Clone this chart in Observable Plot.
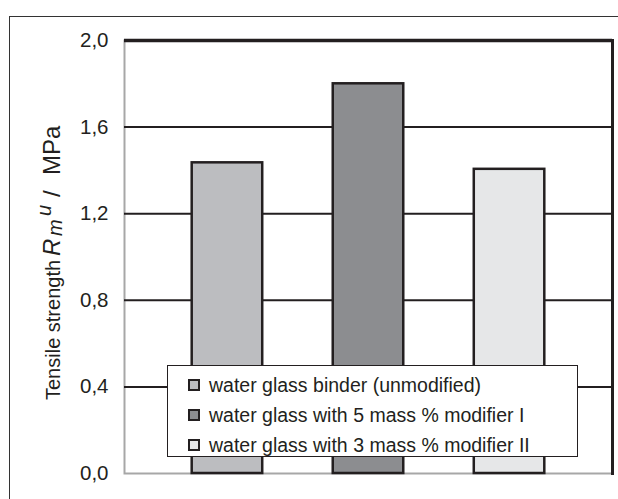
<!DOCTYPE html>
<html>
<head>
<meta charset="utf-8">
<script src="https://cdn.jsdelivr.net/npm/d3@7"></script>
<script src="https://cdn.jsdelivr.net/npm/@observablehq/plot@0.6"></script>
<style>
  html, body { margin: 0; padding: 0; background: #fff; overflow: hidden; }
  #wrap { position: relative; width: 618px; height: 499px; overflow: hidden; font-family: "Liberation Sans", Arial, sans-serif; }
  #outer { position: absolute; left: 9px; top: 16px; width: 800px; height: 700px; border: 1.5px solid #333; box-sizing: border-box; }
  #chart { position: absolute; left: 0; top: 0; }
  #legend { position: absolute; left: 167px; top: 365px; width: 411px; height: 92px; box-sizing: border-box;
            border: 1.5px solid #231f20; background: #fff; padding-top: 4px; }
  .item { display: flex; align-items: center; height: 30px; padding-left: 20px; font-size: 19.5px; color: #231f20; }
  .sw { width: 12px; height: 12px; box-sizing: border-box; border: 2.5px solid #231f20; margin-right: 9px; }
</style>
</head>
<body>
<div id="wrap">
  <div id="outer"></div>
  <div id="chart"></div>
  <div id="legend"></div>
</div>
<script>
const series = ["water glass binder (unmodified)", "water glass with 5 mass % modifier I", "water glass with 3 mass % modifier II"];
const values = [1.435, 1.80, 1.405];
const colors = ["#bcbdc0", "#8c8d90", "#e6e7e8"];
const yTicks = [0, 0.4, 0.8, 1.2, 1.6, 2.0];
const gridTicks = [0.4, 0.8, 1.2, 1.6];

const data = series.map((s, i) => ({series: s, value: values[i]}));
const fmt = d => d3.format(".1f")(d).replace(".", ",");

const plot = Plot.plot({
  width: 618,
  height: 499,
  marginLeft: 124,
  marginRight: 6,
  marginTop: 40,
  marginBottom: 26,
  style: {fontFamily: "'Liberation Sans', Arial, sans-serif", fontSize: "20px", color: "#231f20", background: "transparent", overflow: "visible"},
  x: {domain: series, paddingInner: 0.5, paddingOuter: 0.48, round: false, axis: null},
  y: {domain: [0, 2], ticks: yTicks, tickFormat: fmt, label: null},
  color: {domain: series, range: colors},
  marks: [
    Plot.frame({stroke: "#a7a7a7", strokeWidth: 2}),
    Plot.ruleY(gridTicks, {stroke: "#231f20", strokeWidth: 2}),
    Plot.ruleY([2.0], {stroke: "#231f20", strokeWidth: 3.5}),
    Plot.frame({anchor: "right", stroke: "#231f20", strokeWidth: 3}),
    Plot.barY(data, {x: "series", y: "value", fill: "series", stroke: "#231f20", strokeWidth: 2.5}),
    Plot.axisY({ticks: yTicks, tickFormat: fmt, tickSize: 0, tickPadding: 16, fontSize: 20.5, label: null})
  ]
});
document.getElementById("chart").appendChild(plot);

// Y axis title with italic R, subscript m, superscript u
const svg = d3.select(plot);
const t = svg.append("text")
  .attr("transform", "translate(60,400) rotate(-90)")
  .attr("text-anchor", "start")
  .style("font-family", "'Liberation Sans', Arial, sans-serif")
  .style("font-size", "20px")
  .attr("fill", "#231f20");
const parts = [
  {txt: "Tensile strength", x: 0, size: 20, italic: false, dy: 0},
  {txt: "R", x: 144, size: 24, italic: true, dy: 0},
  {txt: "m", x: 164, size: 20, italic: true, dy: 2},
  {txt: "u", x: 184, size: 20, italic: true, dy: -11},
  {txt: "/", x: 203, size: 24, italic: false, dy: 9},
  {txt: "MPa", x: 225, size: 24, italic: false, dy: 0}
];
parts.forEach(p => t.append("tspan")
  .attr("x", p.x).attr("dy", p.dy)
  .style("font-style", p.italic ? "italic" : "normal")
  .style("font-size", p.size + "px")
  .text(p.txt));

// Legend
const leg = d3.select("#legend");
series.forEach((s, i) => {
  const it = leg.append("div").attr("class", "item");
  it.append("div").attr("class", "sw").style("background", colors[i]);
  it.append("span").text(s);
});
</script>
</body>
</html>
